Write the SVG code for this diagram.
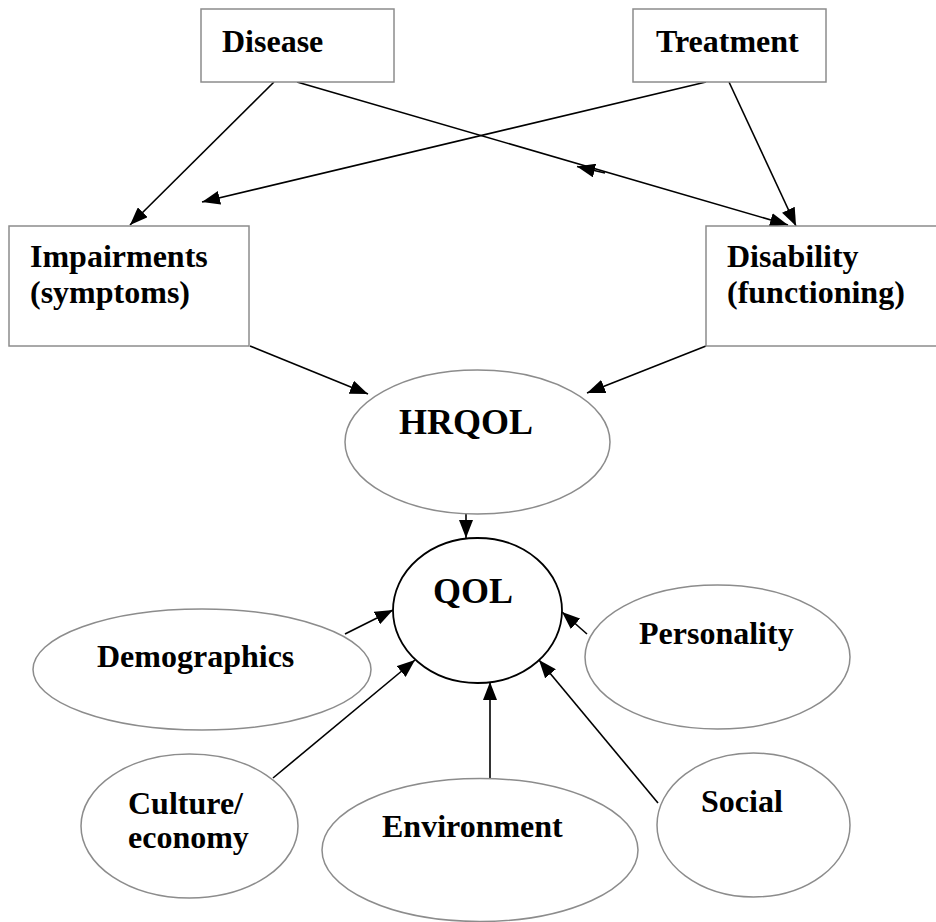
<svg xmlns="http://www.w3.org/2000/svg" width="936" height="922" viewBox="0 0 936 922">
<style>
.box{fill:#fff;stroke:#8c8c8c;stroke-width:1.5}
.oval{fill:#fff;stroke:#8c8c8c;stroke-width:1.5}
.core{fill:#fff;stroke:#000;stroke-width:1.8}
.lbl{font-family:"Liberation Serif","Times New Roman",serif;font-weight:bold;font-size:32px;fill:#000}
.big{font-size:36px}
.edge{stroke:#000;stroke-width:1.6;fill:none;marker-end:url(#arr)}
</style>
<defs>
<marker id="arr" markerUnits="userSpaceOnUse" markerWidth="18" markerHeight="14" refX="18" refY="7" orient="auto">
<path d="M0,0 L18,7 L0,14 z" fill="#000"/>
</marker>
</defs>
<rect width="936" height="922" fill="#fff"/>
<g id="connectors">
<line class="edge" x1="274" y1="82" x2="130" y2="225"/>
<line class="edge" x1="297" y1="82" x2="788" y2="225"/>
<line class="edge" x1="605" y1="173" x2="577" y2="166.5"/>
<line class="edge" x1="706" y1="82" x2="202" y2="202"/>
<line class="edge" x1="729" y1="82" x2="796" y2="226"/>
<line class="edge" x1="250" y1="346" x2="368" y2="394"/>
<line class="edge" x1="706" y1="346" x2="587" y2="393"/>
<line class="edge" x1="466" y1="514" x2="466" y2="538"/>
<line class="edge" x1="345" y1="634" x2="393" y2="610"/>
<line class="edge" x1="587" y1="634" x2="562" y2="612"/>
<line class="edge" x1="273" y1="778" x2="415" y2="660"/>
<line class="edge" x1="490" y1="778" x2="490" y2="682"/>
<line class="edge" x1="658" y1="803" x2="539" y2="660"/>
</g>
<g id="disease"><rect class="box" x="201" y="9" width="193" height="73"/><text class="lbl" x="222" y="52">Disease</text></g>
<g id="treatment"><rect class="box" x="633" y="9" width="193" height="73"/><text class="lbl" x="656" y="52">Treatment</text></g>
<g id="impairments"><rect class="box" x="9" y="226" width="240" height="120"/><text class="lbl" x="30" y="267">Impairments</text><text class="lbl" x="30" y="303">(symptoms)</text></g>
<g id="disability"><rect class="box" x="706" y="226" width="240" height="120"/><text class="lbl" x="727" y="267">Disability</text><text class="lbl" x="727" y="303">(functioning)</text></g>
<g id="hrqol"><ellipse class="oval" cx="477.5" cy="442" rx="132.5" ry="72"/><text class="lbl big" x="399" y="434">HRQOL</text></g>
<g id="qol"><ellipse class="core" cx="477.5" cy="610.5" rx="84.5" ry="72.5"/><text class="lbl big" x="433" y="603">QOL</text></g>
<g id="demographics"><ellipse class="oval" cx="202" cy="669.5" rx="169" ry="60.5"/><text class="lbl" x="97" y="667">Demographics</text></g>
<g id="personality"><ellipse class="oval" cx="717.5" cy="657" rx="132.5" ry="72"/><text class="lbl" x="639" y="644">Personality</text></g>
<g id="culture"><ellipse class="oval" cx="189.5" cy="826" rx="108.5" ry="72"/><text class="lbl" x="128" y="814">Culture/</text><text class="lbl" x="128" y="848">economy</text></g>
<g id="environment"><ellipse class="oval" cx="480" cy="850" rx="158" ry="71.5"/><text class="lbl" x="382" y="837">Environment</text></g>
<g id="social"><ellipse class="oval" cx="753.5" cy="825" rx="96.5" ry="72"/><text class="lbl" x="701" y="812">Social</text></g>
</svg>
